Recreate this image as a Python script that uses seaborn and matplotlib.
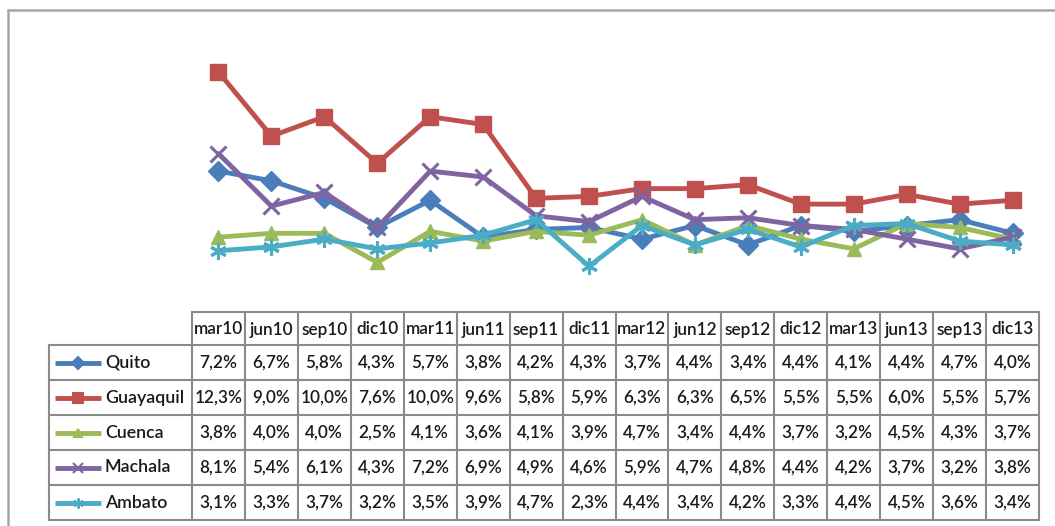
import numpy as np
import pandas as pd
import matplotlib
matplotlib.use("Agg")
import matplotlib.pyplot as plt
import seaborn as sns

periodos = ["mar10", "jun10", "sep10", "dic10", "mar11", "jun11", "sep11", "dic11",
            "mar12", "jun12", "sep12", "dic12", "mar13", "jun13", "sep13", "dic13"]
ciudades = ["Quito", "Guayaquil", "Cuenca", "Machala", "Ambato"]
quito = [7.2, 6.7, 5.8, 4.3, 5.7, 3.8, 4.2, 4.3, 3.7, 4.4, 3.4, 4.4, 4.1, 4.4, 4.7, 4.0]
guayaquil = [12.3, 9.0, 10.0, 7.6, 10.0, 9.6, 5.8, 5.9, 6.3, 6.3, 6.5, 5.5, 5.5, 6.0, 5.5, 5.7]
cuenca = [3.8, 4.0, 4.0, 2.5, 4.1, 3.6, 4.1, 3.9, 4.7, 3.4, 4.4, 3.7, 3.2, 4.5, 4.3, 3.7]
machala = [8.1, 5.4, 6.1, 4.3, 7.2, 6.9, 4.9, 4.6, 5.9, 4.7, 4.8, 4.4, 4.2, 3.7, 3.2, 3.8]
ambato = [3.1, 3.3, 3.7, 3.2, 3.5, 3.9, 4.7, 2.3, 4.4, 3.4, 4.2, 3.3, 4.4, 4.5, 3.6, 3.4]
series = [quito, guayaquil, cuenca, machala, ambato]

colores = {"Quito": "#4A7EBB", "Guayaquil": "#C0504D", "Cuenca": "#9BBB59",
           "Machala": "#8064A2", "Ambato": "#4BACC6"}
marcadores = {"Quito": "D", "Guayaquil": "s", "Cuenca": "^", "Machala": "x", "Ambato": (6, 2, 0)}
tam = {"Quito": 10, "Guayaquil": 11, "Cuenca": 10, "Machala": 11, "Ambato": 12}

df = pd.DataFrame({
    "periodo": periodos * len(ciudades),
    "ciudad": np.repeat(ciudades, len(periodos)),
    "valor": np.concatenate(series),
})

sns.set_style("white")
plt.rcParams["font.family"] = ["Lato", "DejaVu Sans"]

W, H = 1055, 526
fig = plt.figure(figsize=(W / 100, H / 100), dpi=100)
fig.patch.set_facecolor("white")

# overlay in pixel coordinates for frame and data table
tab = fig.add_axes([0, 0, 1, 1])
tab.set_xlim(0, W)
tab.set_ylim(H, 0)
tab.axis("off")

# plot area
x0, x1 = 192, 1039
ytop, ybot = 39, 311
ax = fig.add_axes([x0 / W, (H - ybot) / H, (x1 - x0) / W, (ybot - ytop) / H])
ax.patch.set_alpha(0)
sns.lineplot(data=df, x="periodo", y="valor", hue="ciudad", style="ciudad",
             hue_order=ciudades, style_order=ciudades, palette=colores,
             markers=["D", "s", "^", "o", "o"], dashes=False, sort=False, legend=False,
             linewidth=3.5, ax=ax)
for ln, c in zip(ax.lines, ciudades):
    ln.set_marker(marcadores[c])
    ln.set_markersize(tam[c])
    ln.set_markeredgecolor(colores[c])
    ln.set_markerfacecolor(colores[c])
    ln.set_markeredgewidth(2.2 if c in ("Machala", "Ambato") else 1)
ax.set_xlim(-0.5, len(periodos) - 0.5)
ax.set_ylim(0, 14)
ax.axis("off")

# outer frame
frame_c = "#A6A6A6"
tab.plot([8, 8], [10, H], color=frame_c, lw=1.8)
tab.plot([8, W], [10, 10], color=frame_c, lw=1.8)

# data table
grid_c = "#8A8A8A"
xs = np.linspace(x0, x1, len(periodos) + 1)
head_top, head_bot = 312, 345
ys = np.linspace(345, 520, len(ciudades) + 1)
leg_left = 49

for x in xs:
    tab.plot([x, x], [head_top, ys[-1]], color=grid_c, lw=1.5)
tab.plot([leg_left, leg_left], [ys[0], ys[-1]], color=grid_c, lw=1.5)
tab.plot([x0, x1], [head_top, head_top], color=grid_c, lw=1.5)
for y in ys:
    tab.plot([leg_left, x1], [y, y], color=grid_c, lw=1.5)

txt_c = "#1A1A1A"
fs = 12.3
fw = "semibold"
for i, p in enumerate(periodos):
    tab.text((xs[i] + xs[i + 1]) / 2, (head_top + head_bot) / 2 + 1, p,
             ha="center", va="center", fontsize=fs, color=txt_c, fontweight=fw)

for r, (c, vals) in enumerate(zip(ciudades, series)):
    yc = (ys[r] + ys[r + 1]) / 2
    tab.plot([55, 101], [yc, yc], color=colores[c], lw=3.5, solid_capstyle="butt")
    tab.plot([78], [yc], marker=marcadores[c], color=colores[c],
             markersize=tam[c] * 0.6, markeredgewidth=1.5)
    tab.text(105, yc, c, ha="left", va="center", fontsize=fs + 0.5, color=txt_c,
             fontweight=fw)
    for i, v in enumerate(vals):
        tab.text((xs[i] + xs[i + 1]) / 2, yc, f"{v:.1f}%".replace(".", ","),
                 ha="center", va="center", fontsize=fs, color=txt_c, fontweight=fw)

fig.savefig("out.png", dpi=100)
